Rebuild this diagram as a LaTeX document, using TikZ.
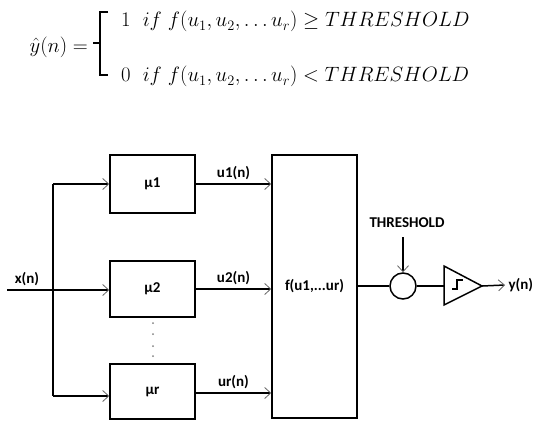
\documentclass[tikz,border=0pt]{standalone}
\usepackage{amsmath,amssymb}
\usepackage{fontspec}
\setsansfont{Carlito}
\usetikzlibrary{arrows.meta,positioning,calc}
\tikzset{
  blk/.style={draw,line width=1.5pt,minimum width=85pt,inner sep=0pt},
  lab/.style={font=\fontsize{15}{17}\selectfont\sffamily\bfseries},
  sig/.style={line width=1.5pt},
  sigarr/.style={sig,-{Straight Barb[length=6pt,width=11pt,line width=0.8pt,color=black!60]}},
  eq/.style={font=\fontsize{20}{22}\selectfont,inner sep=0pt}
}

\begin{document}
\begin{tikzpicture}[x=1pt,y=-1pt]
    \useasboundingbox (0,0) rectangle (534,422);
    % decision rule
    \node[eq,anchor=east,font=\fontsize{22}{24}\selectfont] (yhat) at (88,47) {$\hat{y}(n)=$};
    \node[eq,anchor=base west] (one) at (121,27)
      {$1\ \ if\ f(u_1,u_2,\ldots u_r)\geq THRESHOLD$};
    \node[eq,anchor=base west] (zero) at (121,82)
      {$0\ \ if\ f(u_1,u_2,\ldots u_r)< THRESHOLD$};
    \draw[line width=1.4pt] (108,12) -- (100,12) -- (100,75) -- (108,75)
      (93,43) -- (100,43);
    % blocks
    \node[blk,lab,minimum height=58pt] (mu1) at (152.5,184) {μ1};
    \node[blk,lab,minimum height=56pt] (mu2) at (152.5,289) {μ2};
    \node[blk,lab,minimum height=55pt] (mur) at (152.5,391.5) {μr};
    \node[blk,lab,minimum height=263pt] (fbox) at (314.5,286.5) {f(u1,...ur)};
    \node[draw,line width=1.5pt,circle,minimum size=26pt,inner sep=0pt] (sum) at (403,286) {};
    \foreach \yy in {323,334,346,356}
      \fill[black!50] (153,\yy) circle (1pt);
    % input bus
    \node[lab] (xn) at (27,279) {x(n)};
    \coordinate (inp) at (7,290);
    \coordinate (bus1) at (53,184);
    \coordinate (bus2) at (53,290);
    \coordinate (busr) at (53,396);
    \draw[sig] (inp) -- (bus2);
    \draw[sig] (bus1) -- (busr);
    \draw[sigarr] (bus1) -- (bus1 -| mu1.west);
    \draw[sigarr] (bus2) -- (bus2 -| mu2.west);
    \draw[sigarr] (busr) -- (busr -| mur.west);
    % branch outputs
    \draw[sigarr] (mu1.east) -- (mu1.east -| fbox.west)
      node[lab,midway,above] {u1(n)};
    \draw[sigarr] (mu2.east) -- (mu2.east -| fbox.west)
      node[lab,midway,above] {u2(n)};
    \draw[sigarr] ([yshift=-1.5pt]mur.east) -- ([yshift=-1.5pt]mur.east -| fbox.west)
      node[lab,midway,above] {ur(n)};
    % threshold and comparator
    \node[lab] (thr) at (407,223) {THRESHOLD};
    \coordinate (thrin) at (403,237);
    \draw[sigarr] (thrin) -- (sum.north);
    \draw[sig] (fbox.east |- sum.west) -- (sum.west);
    \coordinate (ampin) at (444,286);
    \coordinate (ampout) at (482,286);
    \draw[line width=1.5pt,line join=miter] (444,266) -- (ampout) -- (444,305) -- cycle;
    \draw[line width=1.3pt] (452,289) -- (457,289) -- (457,280) -- (463,280);
    \draw[sig] (sum.east) -- (ampin);
    \node[lab,anchor=west] (yn) at (505,285) {y(n)};
    \draw[sigarr] (ampout) -- (yn.west);
  \end{tikzpicture}
\end{document}
